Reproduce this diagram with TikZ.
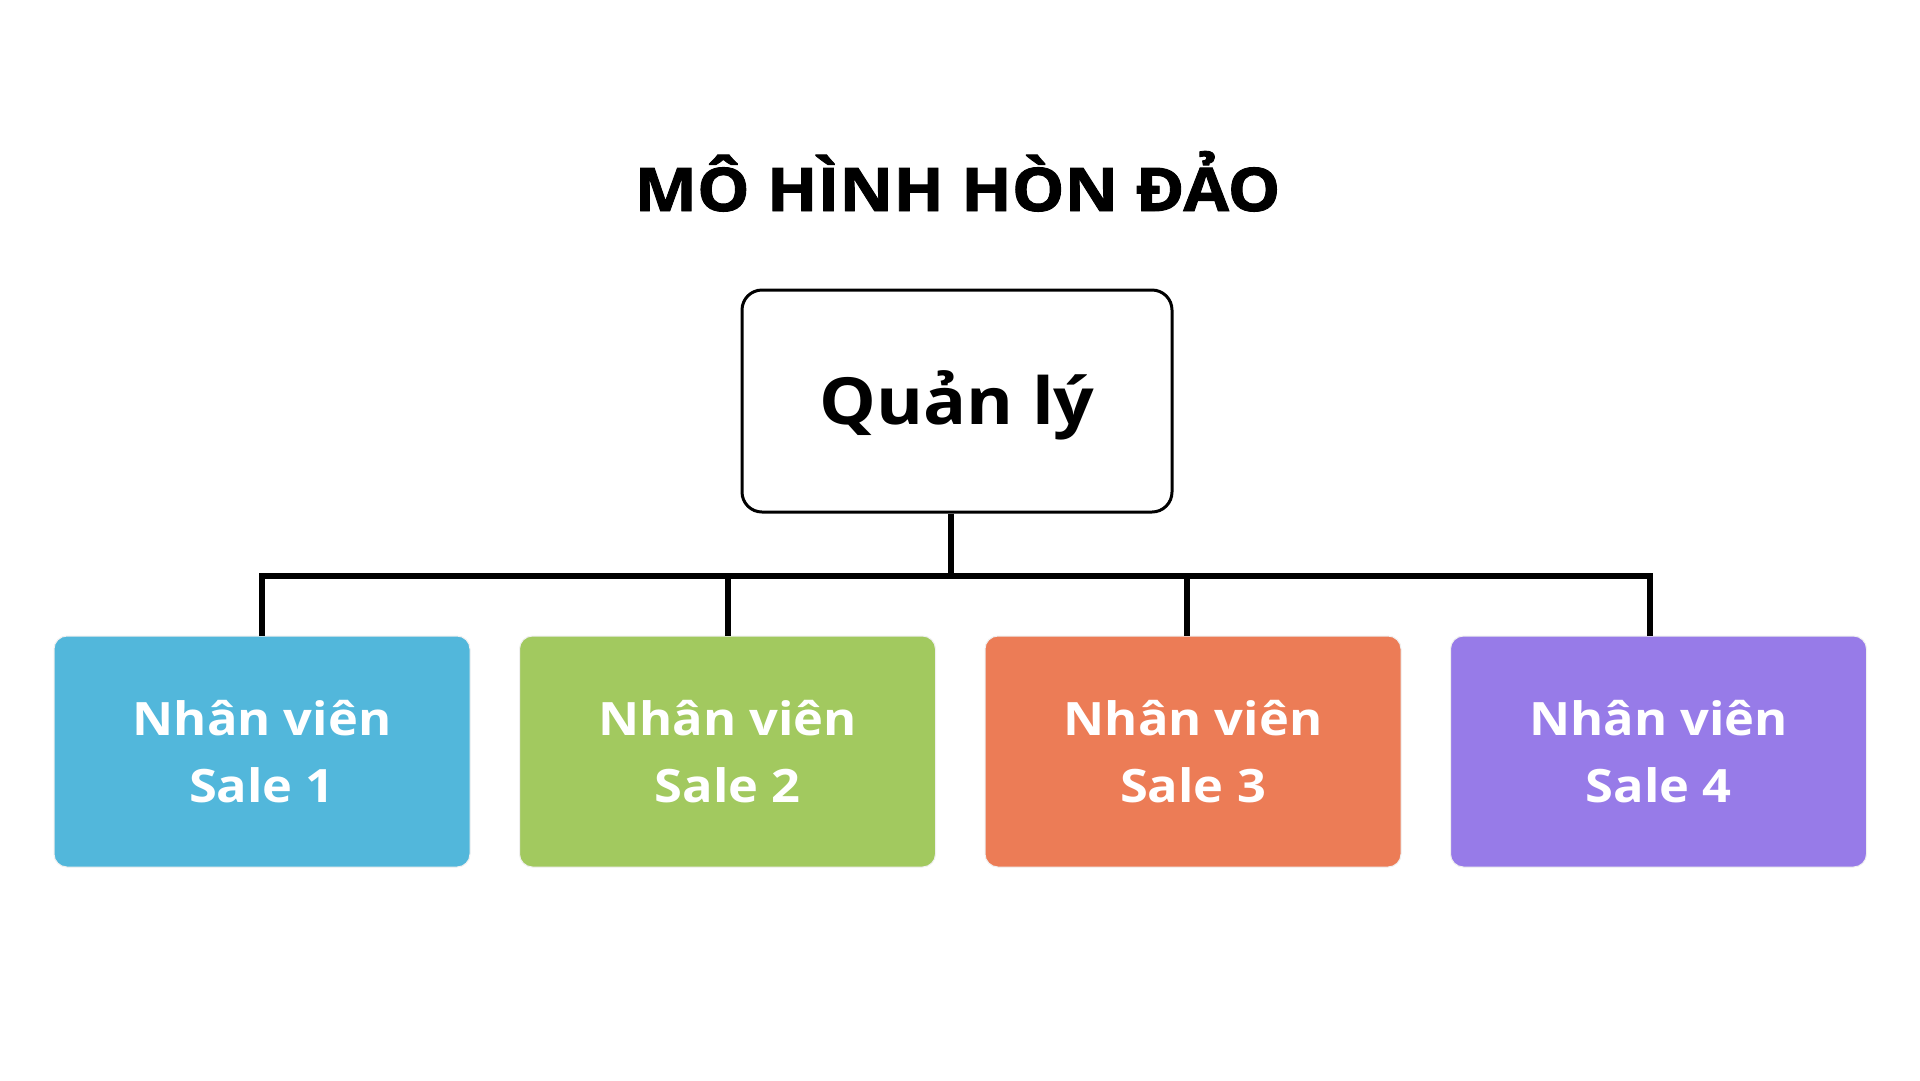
\documentclass[tikz,border=0pt]{standalone}
\usepackage{fontspec}
\setmainfont{Open Sans}[FakeStretch=1.1]
\newfontfamily\titlefont{Open Sans}[FakeStretch=1.1, BoldFeatures={FakeBold=1.5}]

\definecolor{saleblue}{HTML}{52B7DB}
\definecolor{salegreen}{HTML}{A2C95F}
\definecolor{saleorange}{HTML}{EC7C56}
\definecolor{salepurple}{HTML}{977BE8}

\tikzset{
  boss/.style={draw=black, line width=3pt, rounded corners=20pt, fill=white,
    minimum width=430pt, minimum height=222pt, text height=47pt, text depth=0pt,
    font=\fontsize{65}{80}\selectfont\bfseries},
  sale/.style={draw=black!6, line width=1pt, rounded corners=13pt,
    minimum width=416pt, minimum height=231pt, text=white, align=center,
    text height=101pt, text depth=0pt, font=\fontsize{46}{67}\selectfont\bfseries},
  conn/.style={line width=6pt, line join=miter}
}

\begin{document}
\begin{tikzpicture}[x=1pt, y=-1pt]
        \useasboundingbox [fill=white] (0,0) rectangle (1920,1080);
        \node [anchor=base, font=\titlefont\fontsize{60.2}{70}\selectfont\bfseries] (title) at (957.5,211) {MÔ HÌNH HÒN ĐẢO};
        \node [boss] (mgr) at (957,401) {Quản lý};
        \node [sale, fill=saleblue] (sale1) at (262,751.5) {Nhân viên\\Sale 1};
        \node [sale, fill=salegreen] (sale2) at (727.5,751.5) {Nhân viên\\Sale 2};
        \node [sale, fill=saleorange] (sale3) at (1193,751.5) {Nhân viên\\Sale 3};
        \node [sale, fill=salepurple] (sale4) at (1658.5,751.5) {Nhân viên\\Sale 4};
        \coordinate (bus) at (0,576);
        \draw [conn] ([xshift=-6pt]mgr.south) -- ([xshift=-6pt]mgr.south |- bus);
        \draw [conn] (sale1.north) -- (sale1.north |- bus) -- ([xshift=-9pt]sale4.north |- bus) -- ([xshift=-9pt]sale4.north);
        \draw [conn] (sale2.north |- bus) -- (sale2.north);
        \draw [conn] ([xshift=-6pt]sale3.north |- bus) -- ([xshift=-6pt]sale3.north);
      \end{tikzpicture}
\end{document}
